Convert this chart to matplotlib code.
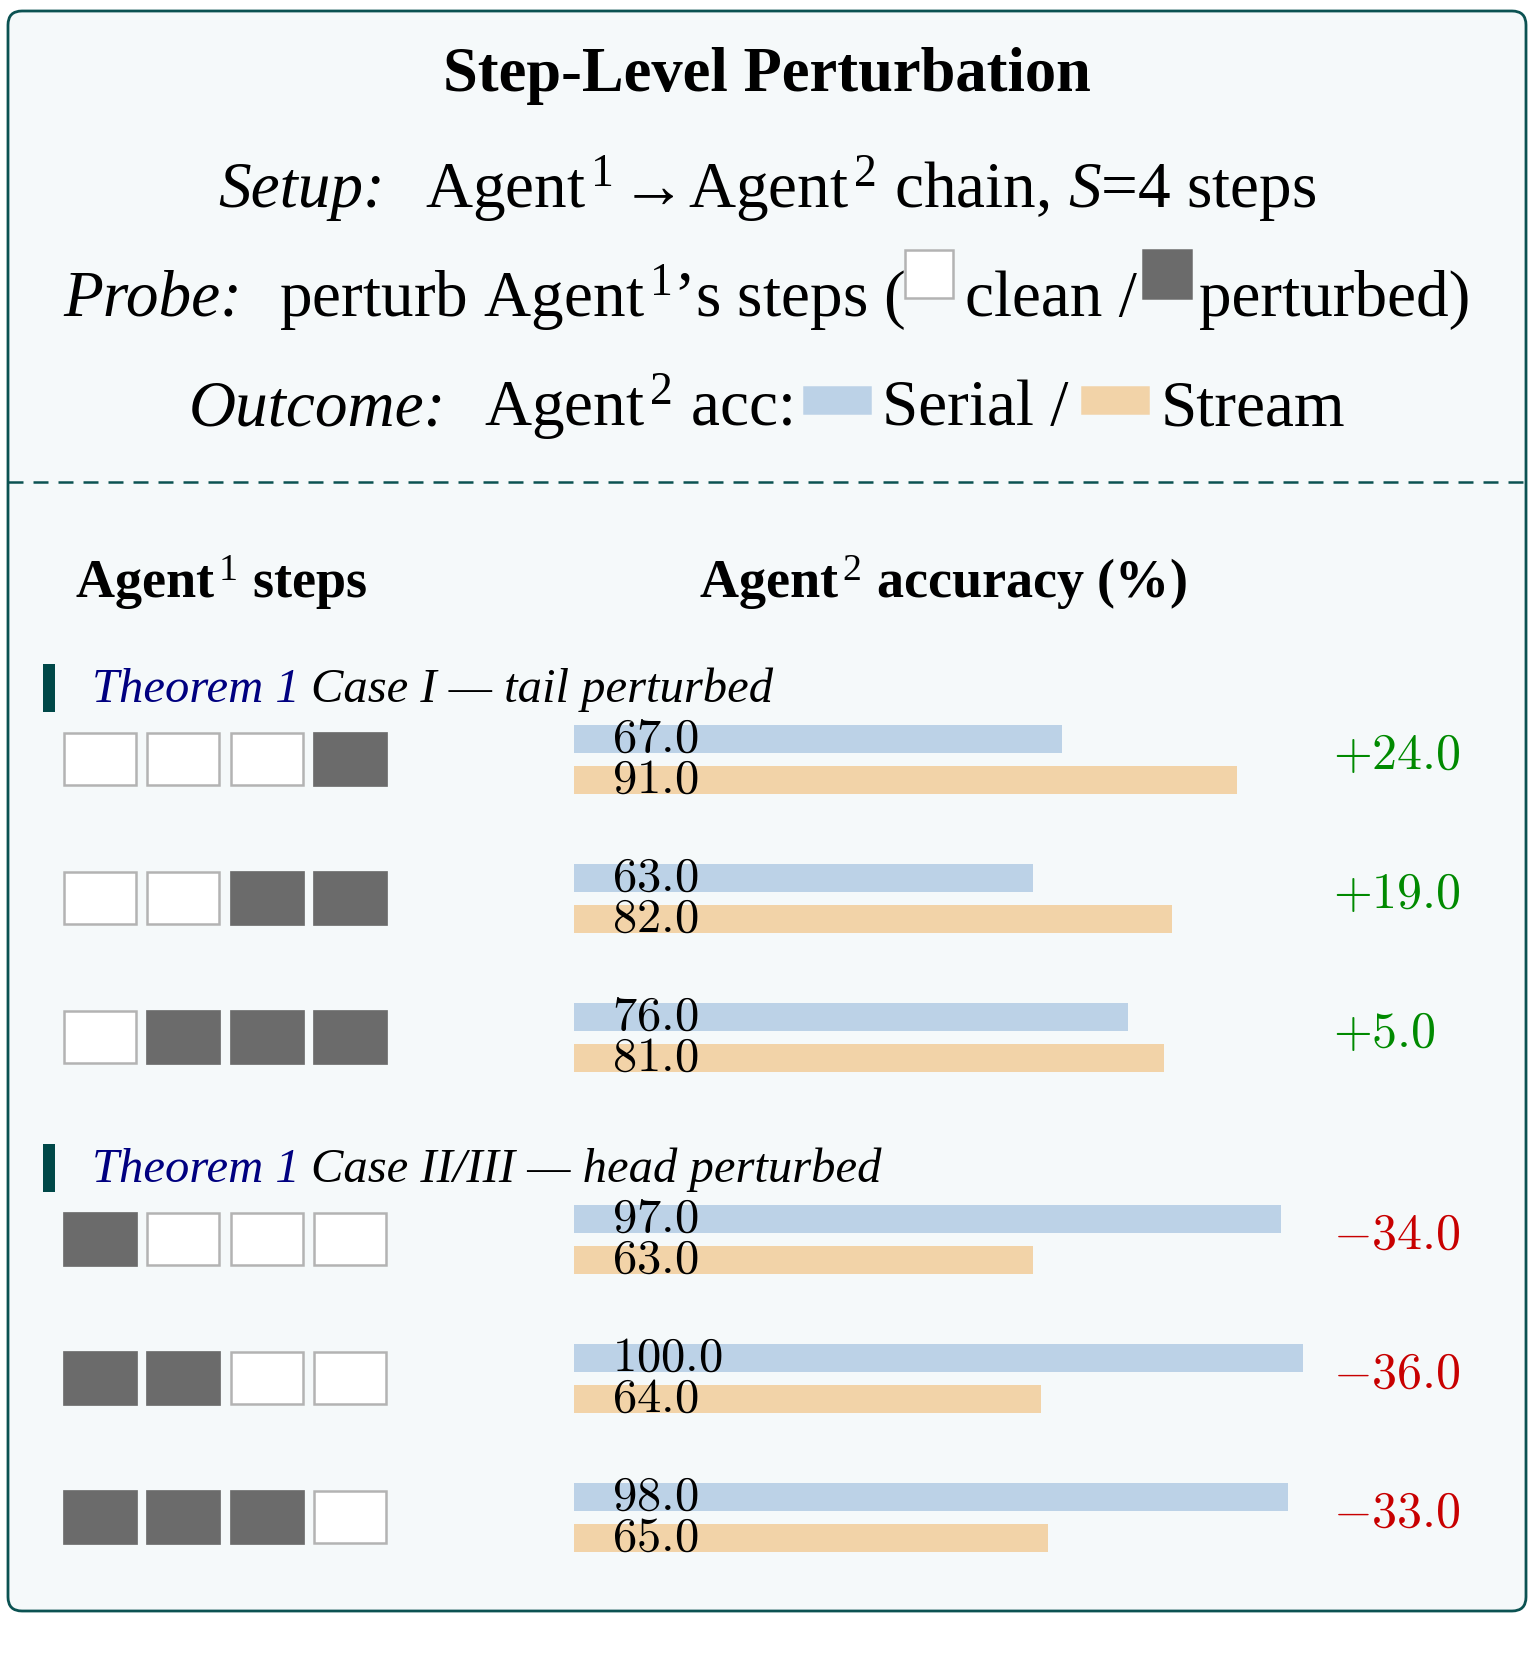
import matplotlib
matplotlib.use("Agg")
import matplotlib.pyplot as plt
from matplotlib.patches import Rectangle, FancyBboxPatch

plt.rcParams["font.family"] = ["Liberation Serif", "DejaVu Serif"]
plt.rcParams["mathtext.fontset"] = "custom"
plt.rcParams["mathtext.rm"] = "Liberation Serif"
plt.rcParams["mathtext.it"] = "Liberation Serif:italic"
plt.rcParams["mathtext.bf"] = "Liberation Serif:bold"

# ---------------------------------------------
# Data
# ---------------------------------------------
group_titles = ["Case I \u2014 tail perturbed", "Case II/III \u2014 head perturbed"]
row_group = [0, 0, 0, 1, 1, 1]
# 1 = perturbed step, 0 = clean step
step_patterns = [
    [0, 0, 0, 1],
    [0, 0, 1, 1],
    [0, 1, 1, 1],
    [1, 0, 0, 0],
    [1, 1, 0, 0],
    [1, 1, 1, 0],
]
serial_acc = [67.0, 63.0, 76.0, 97.0, 100.0, 98.0]
stream_acc = [91.0, 82.0, 81.0, 63.0, 64.0, 65.0]

# ---------------------------------------------
# Styles
# ---------------------------------------------
TEAL = "#0b5252"
BAR_TEAL = "#004848"
BG = "#f5f9fa"
SERIAL_C = "#bcd2e7"
STREAM_C = "#f2d3a8"
DARK = "#6b6b6b"
CLEAN_EDGE = "#b3b3b3"
NAVY = "#000080"
GREEN = "#008a00"
RED = "#c80000"

W, H = 1540, 1680
fig = plt.figure(figsize=(W / 100, H / 100), dpi=100)
ax = fig.add_axes([0, 0, 1, 1])
ax.set_xlim(0, W)
ax.set_ylim(H, 0)
ax.axis("off")

# outer panel
ax.add_patch(FancyBboxPatch((8, 11), 1518, 1600,
                            boxstyle="round,pad=0,rounding_size=14",
                            fc=BG, ec=TEAL, lw=2.0, zorder=0))
ax.plot([8, 1526], [482, 482], color=TEAL, lw=1.8, ls=(0, (6, 4)), zorder=1)

fig.canvas.draw()
rend = fig.canvas.get_renderer()


def text_width(s, **kw):
    t = ax.text(0, 0, s, **kw)
    w = t.get_window_extent(rend).width
    t.remove()
    return w


def centered_line(y, parts, cx=767):
    # parts: ("t", string, kwargs) | ("sq", w, h, dy, fc, ec) | ("gap", w)
    widths = []
    for p in parts:
        if p[0] == "t":
            widths.append(text_width(p[1], **p[2]))
        else:
            widths.append(p[1])
    x = cx - sum(widths) / 2
    for p, w in zip(parts, widths):
        if p[0] == "t":
            ax.text(x, y, p[1], va="baseline", ha="left", **p[2])
        elif p[0] == "sq":
            _, sw, sh, dy, fc, ec = p
            ax.add_patch(Rectangle((x, y - dy - sh), sw, sh, fc=fc, ec=ec,
                                   lw=1.8, zorder=2))
        x += w


FS = 47
it = dict(fontsize=FS, style="italic")
rm = dict(fontsize=FS)
sup = r"$^{\,%s}$"

ax.text(767, 91, "Step-Level Perturbation", ha="center", va="baseline",
        fontsize=45, fontweight="bold")

centered_line(207, [
    ("t", "Setup:", it), ("gap", 40),
    ("t", "Agent" + sup % "1", rm), ("gap", 8),
    ("t", "\u2192", rm), ("gap", 2),
    ("t", "Agent" + sup % "2" + " chain, $S$=4 steps", rm),
])
centered_line(316, [
    ("t", "Probe:", it), ("gap", 36),
    ("t", "perturb Agent" + sup % "1" + "\u2019s steps (", rm),
    ("sq", 48, 48, 18, "white", CLEAN_EDGE), ("gap", 12),
    ("t", "clean /", rm), ("gap", 6),
    ("sq", 48, 48, 18, DARK, DARK), ("gap", 8),
    ("t", "perturbed)", rm),
])
centered_line(425, [
    ("t", "Outcome:", it), ("gap", 38),
    ("t", "Agent" + sup % "2" + " acc:", rm), ("gap", 12),
    ("sq", 66, 26, 12, SERIAL_C, SERIAL_C), ("gap", 12),
    ("t", "Serial /", rm), ("gap", 14),
    ("sq", 66, 26, 12, STREAM_C, STREAM_C), ("gap", 12),
    ("t", "Stream", rm),
])

# column headers
ax.text(75, 598, "Agent" + sup % "1" + " steps", fontsize=39,
        fontweight="bold", va="baseline")
ax.text(699, 598, "Agent" + sup % "2" + " accuracy (%)", fontsize=39,
        fontweight="bold", va="baseline")

# ---------------------------------------------
# Rows
# ---------------------------------------------
first_row_y = 759
row_step = 139
group_gap = 63
row_y = []
y = first_row_y
for i in range(len(serial_acc)):
    if i > 0:
        y += row_step + (group_gap if row_group[i] != row_group[i - 1] else 0)
    row_y.append(y)

# group headers
for g, title in enumerate(group_titles):
    gy = row_y[row_group.index(g)] - 71
    ax.add_patch(Rectangle((43, gy - 24), 12, 48, fc=BAR_TEAL, ec="none"))
    t1 = ax.text(92, gy + 14, "Theorem 1", color=NAVY, fontsize=35,
                 style="italic", va="baseline")
    w1 = t1.get_window_extent(rend).width
    ax.text(92 + w1 + 11, gy + 14, title, fontsize=35, style="italic",
            va="baseline")

# step boxes
for yy, pattern in zip(row_y, step_patterns):
    for k, p in enumerate(pattern):
        if p:
            ax.add_patch(Rectangle((63 + k * 83.4, yy - 27), 74, 54, fc=DARK,
                                   ec=DARK, lw=0.5))
        else:
            ax.add_patch(Rectangle((64 + k * 83.4, yy - 26), 72, 52, fc="white",
                                   ec=CLEAN_EDGE, lw=1.8))

# bars on their own 0-100 scale
bx = fig.add_axes([574 / W, 0, (1303 - 574) / W, 1])
bx.set_xlim(0, 100)
bx.set_ylim(H, 0)
bx.axis("off")
ys_serial = [yy - 20.5 for yy in row_y]
ys_stream = [yy + 20.5 for yy in row_y]
bx.barh(ys_serial, serial_acc, height=28, color=SERIAL_C, left=0)
bx.barh(ys_stream, stream_acc, height=28, color=STREAM_C, left=0)

for yy, s, t in zip(row_y, serial_acc, stream_acc):
    bx.text(612, yy - 7, f"${s:.1f}$", transform=ax.transData, fontsize=35,
            math_fontfamily="cm", va="baseline")
    bx.text(612, yy + 34, f"${t:.1f}$", transform=ax.transData, fontsize=35,
            math_fontfamily="cm", va="baseline")
    d = t - s
    ax.text(1333, yy + 10, f"${d:+.1f}$", fontsize=36, math_fontfamily="cm",
            color=GREEN if d > 0 else RED, va="baseline")

fig.savefig("out.png", dpi=100, facecolor="white")
